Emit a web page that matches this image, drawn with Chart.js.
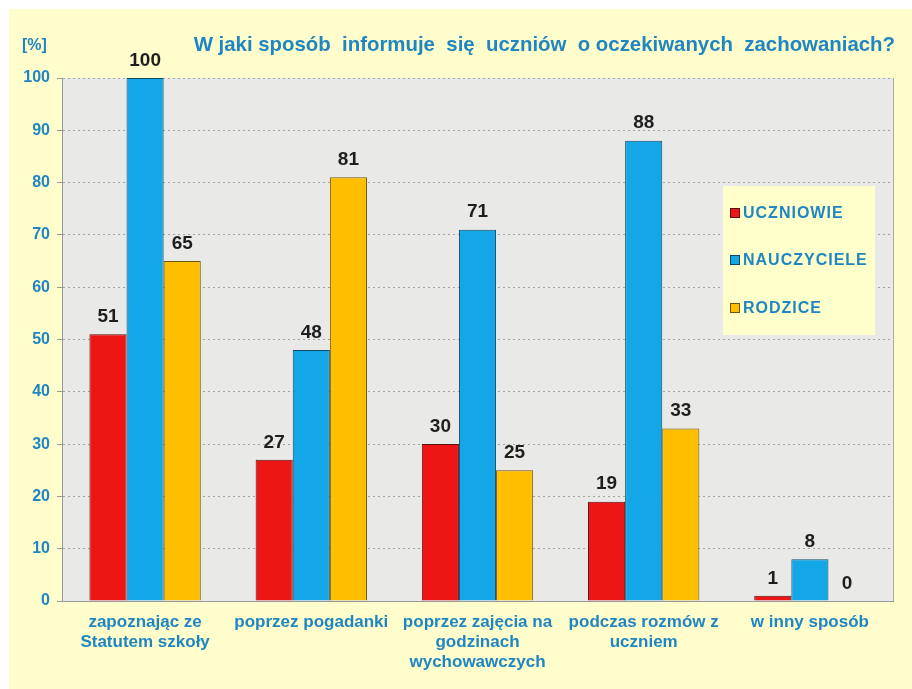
<!DOCTYPE html>
<html>
<head>
<meta charset="utf-8">
<script src="https://cdn.jsdelivr.net/npm/chart.js@4/dist/chart.umd.min.js"></script>
<style>
  html, body { margin: 0; padding: 0; background: #fff; }
</style>
</head>
<body>
<canvas id="wykres" width="912" height="689"></canvas>
<script>
// dane z wykresu
const kategorie = [
    ['zapoznając ze', 'Statutem szkoły'],
    'poprzez pogadanki',
    ['poprzez zajęcia na', 'godzinach', 'wychowawczych'],
    ['podczas rozmów z', 'uczniem'],
    'w inny sposób'
];
const uczniowie = [51, 27, 30, 19, 1];
const nauczyciele = [100, 48, 71, 88, 8];
const rodzice = [65, 81, 25, 33, 0];
const nazwySerii = ['UCZNIOWIE', 'NAUCZYCIELE', 'RODZICE'];
const tytul = 'W jaki sposób  informuje  się  uczniów  o oczekiwanych  zachowaniach?';
const jednostka = '[%]';

const NIEBIESKI_TEKST = '#1f86c2';

// tło, obszar wykresu i tytuł
const tloPlugin = {
    id: 'tlo',
    beforeDraw(chart) {
        const ctx = chart.ctx;
        const a = chart.chartArea;
        ctx.save();
        ctx.fillStyle = '#ffffff';
        ctx.fillRect(0, 0, chart.width, chart.height);
        ctx.fillStyle = '#fffdcb';
        ctx.fillRect(9, 9, chart.width - 9, chart.height - 9);
        ctx.fillStyle = '#e9e9e7';
        ctx.fillRect(a.left, a.top, a.right - a.left, a.bottom - a.top);

        ctx.fillStyle = NIEBIESKI_TEKST;
        ctx.textBaseline = 'middle';
        ctx.font = 'bold 16px "Liberation Sans", Arial, sans-serif';
        ctx.textAlign = 'left';
        ctx.fillText(jednostka, 22, 46);
        ctx.font = 'bold 20.4px "Liberation Sans", Arial, sans-serif';
        ctx.textAlign = 'right';
        ctx.fillText(tytul, 895, 45);
        ctx.restore();
    },
    beforeDatasetsDraw(chart) {
        const ctx = chart.ctx;
        const a = chart.chartArea;
        ctx.save();
        ctx.strokeStyle = '#a9a9a9';
        ctx.lineWidth = 1;
        ctx.beginPath();
        ctx.moveTo(a.right + 0.5, a.top);
        ctx.lineTo(a.right + 0.5, a.bottom);
        ctx.stroke();
        ctx.restore();
    }
};

// wartości nad słupkami
const etykietyPlugin = {
    id: 'etykiety',
    afterDatasetsDraw(chart) {
        const ctx = chart.ctx;
        ctx.save();
        ctx.font = 'bold 19px "Liberation Sans", Arial, sans-serif';
        ctx.fillStyle = '#1e1e1e';
        ctx.textAlign = 'center';
        ctx.textBaseline = 'bottom';
        chart.data.datasets.forEach((ds, i) => {
            chart.getDatasetMeta(i).data.forEach((bar, j) => {
                ctx.fillText(String(ds.data[j]), bar.x, bar.y - 8);
            });
        });
        ctx.restore();
    }
};

// legenda w ramce po prawej
const legendaPlugin = {
    id: 'legenda',
    afterDraw(chart) {
        const ctx = chart.ctx;
        const x = 723, y = 186, w = 152, h = 149;
        ctx.save();
        ctx.fillStyle = '#ffffcc';
        ctx.fillRect(x, y, w, h);
        ctx.font = 'bold 16px "Liberation Sans", Arial, sans-serif';
        ctx.letterSpacing = '1px';
        ctx.textBaseline = 'middle';
        ctx.textAlign = 'left';
        const wiersze = [213, 260, 308];
        chart.data.datasets.forEach((ds, i) => {
            const yy = wiersze[i];
            ctx.fillStyle = ds.backgroundColor;
            ctx.fillRect(730, yy - 5, 10, 10);
            ctx.strokeStyle = ds.borderColor;
            ctx.lineWidth = 1;
            ctx.strokeRect(730.5, yy - 4.5, 9, 9);
            ctx.fillStyle = NIEBIESKI_TEKST;
            ctx.fillText(ds.label, 743, yy + 1);
        });
        ctx.restore();
    }
};

const ctx = document.getElementById('wykres').getContext('2d');

new Chart(ctx, {
    type: 'bar',
    data: {
        labels: kategorie,
        datasets: [
            { label: nazwySerii[0], data: uczniowie, backgroundColor: '#ee1515', borderColor: '#5a1010' },
            { label: nazwySerii[1], data: nauczyciele, backgroundColor: '#14a7e8', borderColor: '#124a66' },
            { label: nazwySerii[2], data: rodzice, backgroundColor: '#ffbe00', borderColor: '#6e5510' }
        ]
    },
    options: {
        responsive: false,
        animation: false,
        devicePixelRatio: 1,
        datasets: {
            bar: { barPercentage: 1, categoryPercentage: 0.67, borderWidth: 1 }
        },
        layout: { padding: { left: 0, right: 19, top: 78, bottom: 0 } },
        plugins: {
            legend: { display: false },
            tooltip: { enabled: false },
            title: { display: false }
        },
        scales: {
            x: {
                grid: { display: false },
                border: { display: true, color: '#999999', width: 1 },
                ticks: {
                    color: NIEBIESKI_TEKST,
                    font: { family: '"Liberation Sans", Arial, sans-serif', size: 17, weight: 'bold', lineHeight: '20px' },
                    padding: 3,
                    maxRotation: 0,
                    autoSkip: false
                },
                afterFit(scale) { scale.height = 88; }
            },
            y: {
                min: 0,
                max: 100,
                ticks: {
                    stepSize: 10,
                    color: NIEBIESKI_TEKST,
                    font: { family: '"Liberation Sans", Arial, sans-serif', size: 16, weight: 'bold' },
                    padding: 7
                },
                grid: {
                    color: '#a3a3a3',
                    tickLength: 5,
                    tickColor: '#999999',
                    tickBorderDash: []
                },
                border: { display: true, color: '#999999', width: 1, dash: [2, 3] },
                afterFit(scale) { scale.width = 62; }
            }
        }
    },
    plugins: [tloPlugin, etykietyPlugin, legendaPlugin]
});
</script>
</body>
</html>
